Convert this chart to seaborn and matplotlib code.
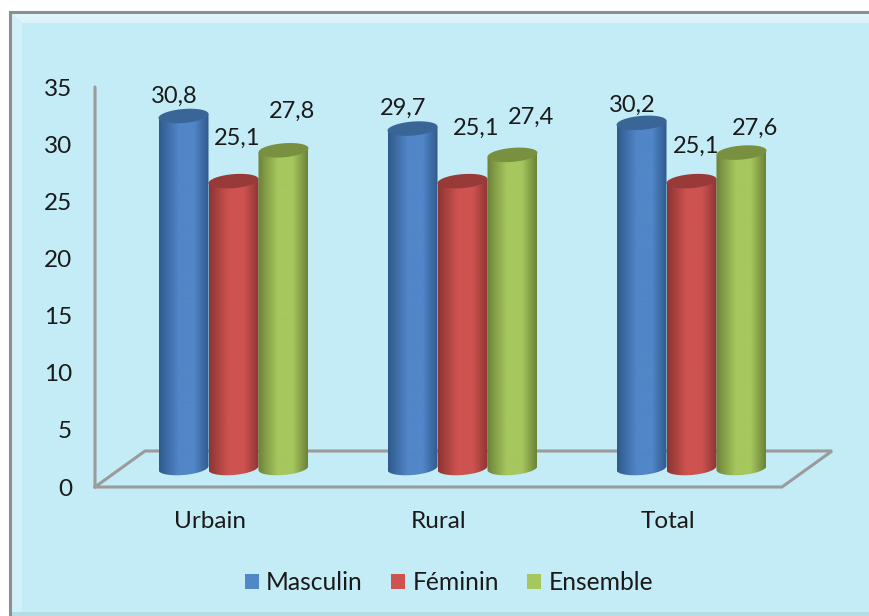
import numpy as np
import pandas as pd
import seaborn as sns
import matplotlib.pyplot as plt
from matplotlib.colors import LinearSegmentedColormap
from matplotlib.patches import Patch, PathPatch, Polygon, Rectangle
from matplotlib.path import Path

zones = ['Urbain', 'Rural', 'Total']
sexes = ['Masculin', 'Féminin', 'Ensemble']
masculin = [30.8, 29.7, 30.2]
feminin = [25.1, 25.1, 25.1]
ensemble = [27.8, 27.4, 27.6]
yticks = [0, 5, 10, 15, 20, 25, 30, 35]

# colours for each cylinder: edge, middle, top
colors = {
    'Masculin': ('#2F5A8C', '#5186C8', '#3A6597'),
    'Féminin': ('#8C3533', '#CE5350', '#983A38'),
    'Ensemble': ('#6C8238', '#A6C75E', '#78903F'),
}
# label offsets in pixels from the top of each bar
offsets = [(-9, 20), (-9, 20), (-9, 18),
           (4, 43), (14, 53), (5, 35),
           (9, 39), (19, 38), (14, 24)]

W, H = 869, 616
GRAY = '#9B9B9B'
TXT = '#1A1A1A'

sns.set_style('white')
plt.rcParams['font.family'] = ['Lato', 'DejaVu Sans']

df = pd.DataFrame({
    'zone': zones * 3,
    'sexe': np.repeat(sexes, 3),
    'taux': masculin + feminin + ensemble,
})


def box(left, right, bottom, top):
    return [left / W, 1 - bottom / H, (right - left) / W, (bottom - top) / H]


fig = plt.figure(figsize=(W / 100, H / 100), dpi=100, facecolor='white')

# background frame and 3d floor, in pixels
bg = fig.add_axes([0, 0, 1, 1], zorder=0)
bg.set_xlim(0, W)
bg.set_ylim(H, 0)
bg.axis('off')
bg.add_patch(Rectangle((10, 12), W, H, fc='#C3ECF6', ec='none'))
bg.add_patch(Polygon([(10, 12), (W, 12), (W, 23), (22, 23)], fc='#DDF5FA', ec='none'))
bg.add_patch(Polygon([(10, 12), (22, 23), (22, H), (10, H)], fc='#D2F0F8', ec='none'))
bg.add_patch(Rectangle((10, 612), W, 4, fc='#B4DDE6', ec='none'))
bg.plot([10, 10, W], [H, 12, 12], color='#8E8E8E', lw=2.2, solid_joinstyle='miter')
bg.plot([95, 95, 782, 832, 145, 95], [87, 487, 487, 451, 451, 487],
        color=GRAY, lw=2.2, solid_joinstyle='miter')

# front plane axes carries the tick labels
front = fig.add_axes(box(95, 782, 487, 87), zorder=1)
front.patch.set_alpha(0)
front.set_xlim(-0.5, 2.5)
front.set_ylim(0, 35)
front.set_xticks(range(3), zones)
front.set_yticks(yticks)
front.tick_params(axis='x', length=0, pad=17, labelsize=17.5, labelcolor=TXT)
front.tick_params(axis='y', length=0, pad=16.5, labelsize=17.5, labelcolor=TXT)
sns.despine(ax=front, left=True, bottom=True)

# bars sit further back than the front plane
ax = fig.add_axes(box(119, 806, 468, 68), zorder=2)
ax.patch.set_alpha(0)
sns.barplot(data=df, x='zone', y='taux', hue='sexe', hue_order=sexes,
            palette=[colors[s][1] for s in sexes], width=0.655, gap=0,
            legend=False, ax=ax)
ax.set_xlim(-0.5, 2.5)
ax.set_ylim(0, 35)
ax.axis('off')

ell_h = 14 * 35 / 400
tilt = 2 * 35 / 400  # cylinders lean a little, right side higher
t = np.linspace(np.pi, 2 * np.pi, 40)
t2 = np.linspace(0, 2 * np.pi, 80)
k = 0
for n, (sexe, cont) in enumerate(zip(sexes, ax.containers)):
    edge, mid, top = colors[sexe]
    cmap = LinearSegmentedColormap.from_list(sexe, [edge, mid, mid, edge], N=256)
    grad = cmap(np.interp(np.linspace(0, 1, 200), [0, 0.5, 0.62, 1], [0, 0.42, 0.58, 1]))[None, :, :]
    for bar in cont:
        bar.set_visible(False)
        x0, w, v = bar.get_x(), bar.get_width(), bar.get_height()
        xc = x0 + w / 2
        # cylinder body with a rounded bottom
        xs = xc + w / 2 * np.cos(t)
        ys = ell_h / 2 * np.sin(t) + tilt * np.cos(t)
        verts = list(zip(xs, ys)) + [(x0 + w, v + tilt), (x0, v - tilt), (xs[0], ys[0])]
        body = PathPatch(Path(verts), fc='none', ec='none', clip_on=False)
        ax.add_patch(body)
        im = ax.imshow(grad, extent=[x0, x0 + w, -2 * ell_h, v + 2 * tilt], aspect='auto',
                       zorder=3 + n, interpolation='bilinear')
        im.set_clip_box(fig.bbox)
        im.set_clip_path(body)
        cap = np.column_stack([xc + w / 2 * np.cos(t2),
                               v + ell_h / 2 * np.sin(t2) + tilt * np.cos(t2)])
        ax.add_patch(Polygon(cap, fc=top, ec='none', zorder=3 + n))
        dx, dy = offsets[k]
        ax.annotate(f'{v:.1f}'.replace('.', ','), (xc, v), xytext=(dx * 0.72, dy * 0.72),
                    textcoords='offset points', ha='center', va='center',
                    fontsize=17, color=TXT, zorder=10, annotation_clip=False)
        k += 1
ax.set_xlim(-0.5, 2.5)
ax.set_ylim(0, 35)

handles = [Patch(fc=colors[s][1], ec='none', label=s) for s in sexes]
fig.legend(handles=handles, loc='center', bbox_to_anchor=(449 / W, 1 - 583 / H), ncol=3,
           frameon=False, fontsize=17.7, labelcolor=TXT, handlelength=0.57, handleheight=0.57,
           handletextpad=0.3, columnspacing=1.15, borderpad=0)

fig.savefig('out.png', dpi=100)
